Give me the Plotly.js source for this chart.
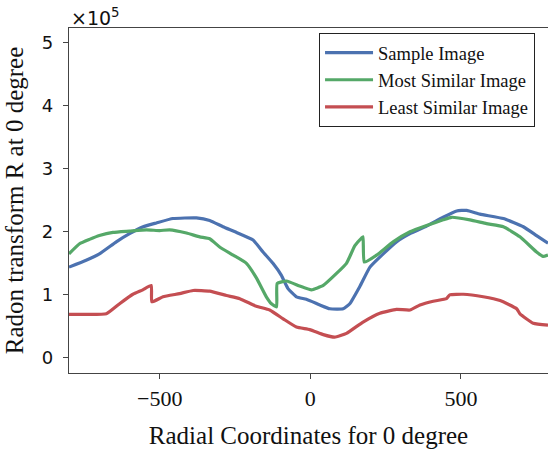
<!DOCTYPE html>
<html>
<head>
<meta charset="utf-8">
<script src="https://cdn.plot.ly/plotly-3.0.1.min.js"></script>
<style>
  html, body { margin: 0; padding: 0; background: #fff; }
  #chart { width: 548px; height: 451px; }
</style>
</head>
<body>
<div id="chart"></div>
<script>
// Radon transform profiles at 0 degree; values are in units of 1e5.
const sampleX = [-801, -744, -700, -644, -600, -555, -511, -456, -378, -334, -290, -245, -190, -157, -124, -96, -74, -46, -13, 32, 65, 109, 131, 164, 198, 242, 286, 331, 386, 441, 486, 519, 563, 641, 707, 751, 789];
const sampleY = [1.44, 1.55, 1.65, 1.84, 1.97, 2.08, 2.14, 2.21, 2.22, 2.18, 2.08, 1.99, 1.87, 1.68, 1.50, 1.31, 1.10, 0.97, 0.93, 0.84, 0.78, 0.78, 0.86, 1.13, 1.44, 1.65, 1.84, 1.97, 2.09, 2.23, 2.33, 2.34, 2.28, 2.21, 2.08, 1.94, 1.82];

const mostX = [-801, -766, -733, -700, -655, -600, -544, -500, -467, -411, -367, -334, -301, -256, -212, -179, -146, -129, -112, -110, -79, -35, 4, 43, 87, 120, 148, 170, 175, 179, 220, 275, 331, 386, 441, 469, 530, 585, 641, 696, 751, 773, 789];
const mostY = [1.65, 1.81, 1.88, 1.94, 1.99, 2.01, 2.03, 2.02, 2.03, 1.98, 1.92, 1.89, 1.76, 1.63, 1.50, 1.27, 0.97, 0.86, 0.81, 1.18, 1.22, 1.14, 1.08, 1.15, 1.34, 1.50, 1.78, 1.90, 1.92, 1.52, 1.63, 1.84, 2.00, 2.10, 2.19, 2.23, 2.19, 2.13, 2.08, 1.92, 1.68, 1.61, 1.63];

const leastX = [-801, -744, -677, -633, -589, -556, -528, -526, -489, -434, -389, -334, -278, -234, -179, -135, -90, -46, -2, 43, 81, 120, 175, 231, 286, 331, 364, 408, 452, 463, 508, 574, 630, 685, 696, 740, 789];
const leastY = [0.69, 0.69, 0.70, 0.86, 1.01, 1.08, 1.15, 0.89, 0.97, 1.02, 1.07, 1.06, 0.99, 0.94, 0.82, 0.76, 0.62, 0.49, 0.45, 0.37, 0.33, 0.39, 0.57, 0.71, 0.77, 0.76, 0.84, 0.90, 0.94, 1.00, 1.01, 0.97, 0.91, 0.78, 0.70, 0.55, 0.52];

const seriesNames = ['Sample Image', 'Most Similar Image', 'Least Similar Image'];
const seriesColors = ['#4c72b0', '#55a868', '#c44e52'];

const xs = [sampleX, mostX, leastX];
const ys = [sampleY, mostY, leastY];

const traces = xs.map((x, i) => ({
  type: 'scatter',
  mode: 'lines',
  x: x,
  y: ys[i],
  name: seriesNames[i],
  line: { color: seriesColors[i], width: 3.2, shape: 'spline', smoothing: 0.4 },
  hoverinfo: 'skip'
}));

const serif = "'Liberation Serif', serif";
const sans = "'DejaVu Sans', sans-serif";

const layout = {
  width: 548,
  height: 451,
  margin: { l: 69, r: 0, t: 28, b: 78 },
  paper_bgcolor: '#fff',
  plot_bgcolor: '#fff',
  showlegend: true,
  legend: {
    x: 0.522, y: 0.985, xanchor: 'left', yanchor: 'top',
    bgcolor: '#fff', bordercolor: '#222', borderwidth: 1,
    font: { family: serif, size: 18.5, color: '#111' },
    itemwidth: 48
  },
  xaxis: {
    range: [-801, 789],
    showgrid: false, zeroline: false,
    showline: true, linecolor: '#444', linewidth: 1.2, mirror: true,
    ticks: 'outside', ticklen: 5, tickcolor: '#444', tickwidth: 1,
    tickvals: [-500, 0, 500],
    ticktext: ['\u2212500', '0', '500'],
    tickfont: { family: serif, size: 22, color: '#111' },
    ticklabelstandoff: 0,
    title: { text: 'Radial Coordinates for 0 degree', font: { family: serif, size: 25, color: '#111' }, standoff: 17 }
  },
  yaxis: {
    range: [-0.238, 5.23],
    showgrid: false, zeroline: false,
    showline: true, linecolor: '#444', linewidth: 1.2,
    ticks: 'outside', ticklen: 5, tickcolor: '#444', tickwidth: 1,
    tickvals: [0, 1, 2, 3, 4, 5],
    ticktext: ['0', '1', '2', '3', '4', '5'],
    tickfont: { family: sans, size: 18, color: '#111' },
    ticklabelstandoff: 6,
    title: { text: 'Radon transform R at 0 degree', font: { family: serif, size: 25, color: '#111' }, standoff: 11 }
  },
  annotations: [{
    xref: 'paper', yref: 'paper', x: 0, y: 1, xanchor: 'left', yanchor: 'bottom',
    text: '\u00d710<sup>5</sup>', showarrow: false,
    font: { family: sans, size: 19, color: '#111' }, yshift: -3
  }]
};

Plotly.newPlot('chart', traces, layout, { displayModeBar: false, staticPlot: true });
</script>
</body>
</html>
